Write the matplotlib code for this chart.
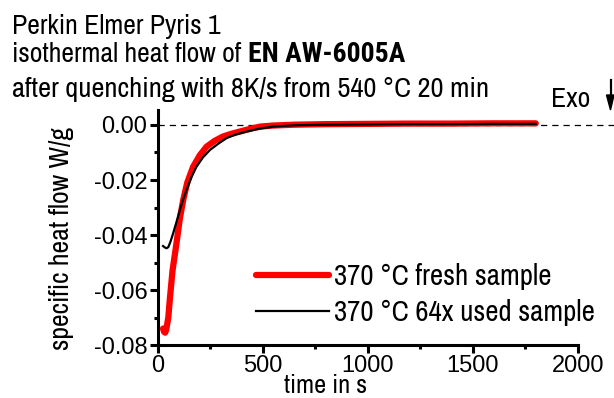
import matplotlib.pyplot as plt
import numpy as np

# Data (time in s, specific heat flow in W/g)
t_fresh = [25, 30, 35, 40, 50, 57, 70, 89, 105, 121, 140, 168, 200, 232, 270,
           310, 350, 390, 440, 486, 550, 650, 800, 1000, 1200, 1400, 1600, 1800]
hf_fresh = [-0.0740, -0.0752, -0.0755, -0.0745, -0.0700, -0.0636, -0.0530, -0.0430,
            -0.0340, -0.0273, -0.0210, -0.0152, -0.0110, -0.0079, -0.0058, -0.0042,
            -0.0032, -0.0024, -0.0014, -0.0006, -0.0002, 0.0001, 0.0003, 0.0004,
            0.0005, 0.0005, 0.0006, 0.0006]

t_used = [25, 33, 42, 50, 60, 73, 90, 105, 120, 137, 160, 184, 215, 248, 290,
          327, 370, 422, 480, 548, 650, 800, 1000, 1200, 1400, 1600, 1800]
hf_used = [-0.0440, -0.0445, -0.0448, -0.0444, -0.0425, -0.0394, -0.0350, -0.0310,
           -0.0272, -0.0236, -0.0190, -0.0152, -0.0118, -0.0091, -0.0067, -0.0048,
           -0.0035, -0.0024, -0.0014, -0.0006, -0.0001, 0.0001, 0.0002, 0.0003,
           0.0003, 0.0004, 0.0004]

labels = ['370 °C fresh sample', '370 °C 64x used sample']
xticks = [0, 500, 1000, 1500, 2000]
yticks = [0.00, -0.02, -0.04, -0.06, -0.08]

narrow = ['Archivo Narrow', 'Liberation Sans', 'DejaVu Sans']
narrow_bold = ['Roboto Condensed', 'Liberation Sans', 'DejaVu Sans']
plt.rcParams['font.family'] = ['Liberation Sans', 'DejaVu Sans']

W, H = 614, 398
fig = plt.figure(figsize=(W / 100, H / 100), dpi=100)
ax = fig.add_axes([0.257, 0.133, 0.684, 0.591])

ax.plot(t_fresh, hf_fresh, color='#ff0000', lw=4.5, label=labels[0], solid_capstyle='round')
ax.plot(t_used, hf_used, color='black', lw=1.6, label=labels[1])

# zero line, running past the axis end
ax.plot([0, 2180], [0, 0], color='black', lw=0.9, ls=(0, (5, 4)), clip_on=False, zorder=0)

ax.set_xlim(0, 2000)
ax.set_ylim(-0.08, 0.0055)
ax.set_xticks(xticks)
ax.set_yticks(yticks)
ax.set_yticklabels(['%.2f' % v for v in yticks])
ax.set_xticks([250, 750, 1250, 1750], minor=True)
ax.set_yticks([-0.01, -0.03, -0.05, -0.07], minor=True)

for side in ['top', 'right']:
    ax.spines[side].set_visible(False)
for side in ['left', 'bottom']:
    ax.spines[side].set_linewidth(2.2)
ax.tick_params(which='major', direction='out', length=6, width=2.2, labelsize=17, pad=1.5)
ax.tick_params(which='minor', direction='out', length=3, width=2.2)

fig.text(326 / W, 1 - 393 / H, 'time in s', family=narrow, fontsize=19,
         ha='center', va='baseline')
fig.text(62 / W, 1 - 238 / H, 'specific heat flow W/g', family=narrow, fontsize=20,
         rotation=90, ha='center', va='center')

leg = ax.legend(loc='lower right', bbox_to_anchor=(1.069, 0.03), frameon=False,
                prop={'family': narrow, 'size': 20.8}, handlelength=2.5,
                handletextpad=0.2, labelspacing=0.32, borderaxespad=0)

# title block
fig.text(12 / W, 1 - 34 / H, 'Perkin Elmer Pyris 1', family=narrow, fontsize=20,
         ha='left', va='baseline')
t1 = fig.text(12 / W, 1 - 62 / H, 'isothermal heat flow of ', family=narrow, fontsize=20,
              ha='left', va='baseline')
fig.canvas.draw()
bb = t1.get_window_extent()
fig.text(bb.x1 / W, 1 - 62 / H, 'EN AW-6005A', family=narrow_bold, fontsize=20,
         fontweight='bold', ha='left', va='baseline')
fig.text(12 / W, 1 - 97 / H, 'after quenching with 8K/s from 540 °C 20 min', family=narrow,
         fontsize=20.5, ha='left', va='baseline')

fig.text(551 / W, 1 - 107 / H, 'Exo', family=narrow, fontsize=20, ha='left', va='baseline')
fig.add_artist(plt.Line2D([610.5 / W, 610.5 / W], [1 - 80 / H, 1 - 98 / H],
                          color='black', lw=1.6))
fig.patches.append(plt.Polygon([[606.5 / W, 1 - 95 / H], [614 / W, 1 - 95 / H],
                                [610.5 / W, 1 - 110 / H]], closed=True, color='black',
                               transform=fig.transFigure, figure=fig))

plt.savefig('out.png', dpi=100)
